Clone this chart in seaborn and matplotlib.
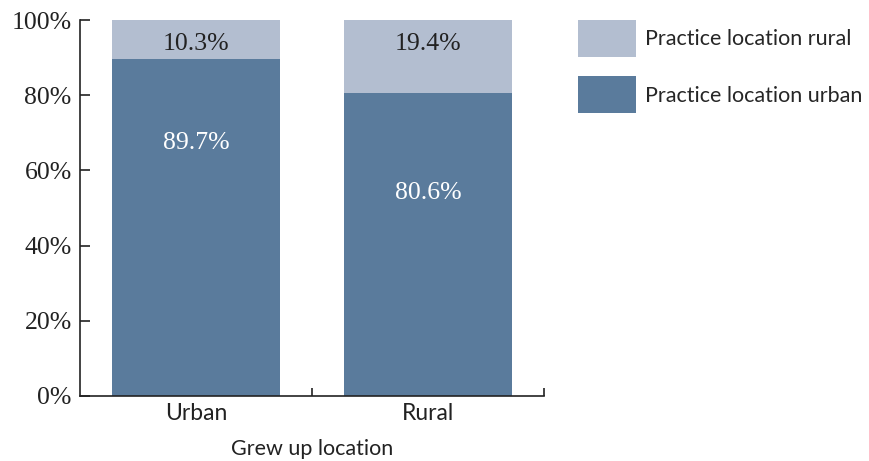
import matplotlib
matplotlib.use("Agg")
import matplotlib.pyplot as plt
from matplotlib.patches import Patch
from matplotlib.ticker import FixedLocator, FuncFormatter
import seaborn as sns
import pandas as pd

# Data
grew_up = ["Urban", "Rural"]
practice_urban = [89.7, 80.6]
practice_rural = [10.3, 19.4]
series_names = ["Practice location rural", "Practice location urban"]
y_ticks = [0, 20, 40, 60, 80, 100]

color_urban = "#5a7b9c"
color_rural = "#b3bed0"
serif = "Liberation Serif"
sans = "Lato"

sns.set_theme(style="ticks")
plt.rcParams["font.family"] = [serif, "DejaVu Serif"]

df = pd.DataFrame({"grew_up": grew_up,
                   "urban": practice_urban,
                   "rural": practice_rural})

fig = plt.figure(figsize=(8.69, 4.61), dpi=100)
ax = fig.add_axes([80 / 869, 1 - 396 / 461, 464 / 869, 376 / 461])

sns.barplot(data=df, x="grew_up", y="urban", color=color_urban,
            width=0.72, saturation=1, ax=ax, linewidth=0)
sns.barplot(data=df, x="grew_up", y="rural", color=color_rural,
            width=0.72, saturation=1, ax=ax, linewidth=0,
            bottom=df["urban"])

# Value labels (vertical placement in data units)
rural_label_y = [93.5, 93.5]
urban_label_y = [67.3, 54.0]
for i, (u, r) in enumerate(zip(practice_urban, practice_rural)):
    ax.text(i, rural_label_y[i], f"{r:.1f}%", ha="center", va="center",
            fontsize=18.5, color="#222222", family=serif)
    ax.text(i, urban_label_y[i], f"{u:.1f}%", ha="center", va="center",
            fontsize=18.5, color="white", family=serif)

ax.set_xlim(-0.5, 1.5)
ax.set_ylim(0, 100)
ax.set_yticks(y_ticks)
ax.yaxis.set_major_formatter(FuncFormatter(lambda v, p: f"{v:.0f}%"))
ax.tick_params(axis="y", direction="in", length=7, width=1.2,
               labelsize=18.5, pad=6, colors="#222222")
for lbl in ax.get_yticklabels():
    lbl.set_family(serif)

ax.xaxis.set_minor_locator(FixedLocator([0.5, 1.5]))
ax.tick_params(axis="x", which="major", length=0, pad=5)
ax.tick_params(axis="x", which="minor", direction="in", length=6,
               width=1.2, color="#222222")
ax.set_xticks(range(len(grew_up)))
ax.set_xticklabels(grew_up, fontsize=16.5, family=sans, color="#222222")
ax.set_xlabel("Grew up location", fontsize=15.5, family=sans,
              color="#222222", labelpad=11)
ax.set_ylabel("")

for side in ("top", "right"):
    ax.spines[side].set_visible(False)
for side in ("left", "bottom"):
    ax.spines[side].set_linewidth(1.2)
    ax.spines[side].set_color("#222222")

handles = [Patch(facecolor=color_rural, edgecolor="none"),
           Patch(facecolor=color_urban, edgecolor="none")]
fig.legend(handles, series_names, loc="upper left",
           bbox_to_anchor=(578 / 869, 1 - 20 / 461), frameon=False,
           borderpad=0, borderaxespad=0, handlelength=2.7,
           handleheight=2.27, handletextpad=0.4, labelspacing=0.9,
           prop={"family": sans, "size": 15.5})

fig.savefig("out.png", dpi=100)
